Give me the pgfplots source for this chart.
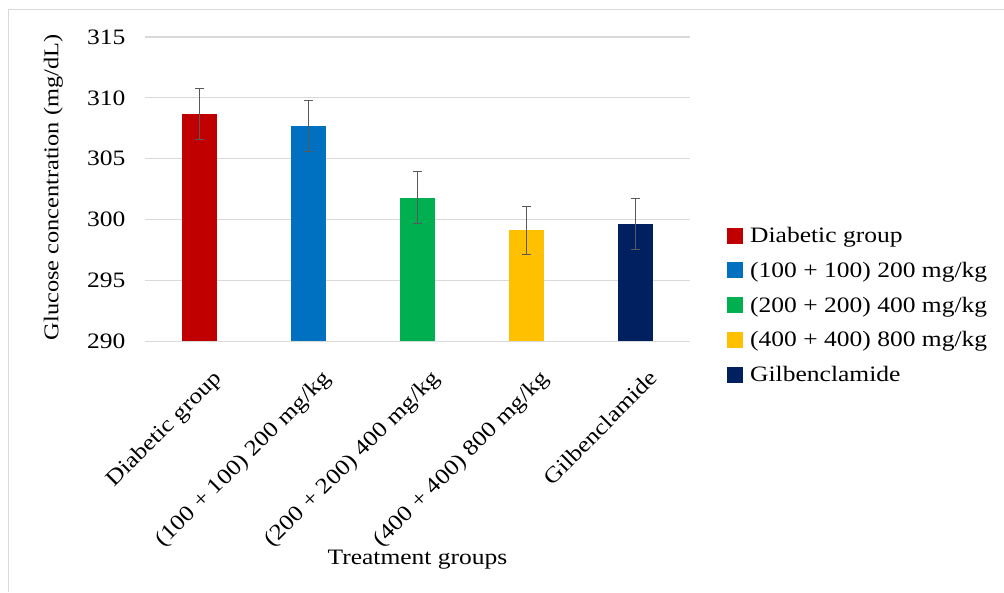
\documentclass[border=0pt]{standalone}
\usepackage{fontspec}
\setmainfont{Liberation Serif}[FakeStretch=1.16]
\usepackage{pgfplots}
\pgfplotsset{compat=1.18}
\definecolor{cRed}{HTML}{C00000}
\definecolor{cBlue}{HTML}{0070C0}
\definecolor{cGreen}{HTML}{00B050}
\definecolor{cYellow}{HTML}{FFC000}
\definecolor{cNavy}{HTML}{002060}
\definecolor{cGrid}{HTML}{D9D9D9}
\definecolor{cErr}{HTML}{595959}
\newcommand\fs{\fontsize{22}{26}\selectfont}
\begin{document}
\begin{tikzpicture}[x=1pt,y=1pt]
\path[use as bounding box] (0,0) rectangle (1004,592);
\draw[cGrid, line width=1pt] (8,0) -- (8,582) -- (1004,582);
\begin{axis}[
  at={(145pt,251pt)}, anchor=south west,
  scale only axis, width=545pt, height=304pt,
  ybar, bar width=35pt, bar shift=0pt,
  xmin=-0.5, xmax=4.5, ymin=290, ymax=315,
  ytick={290,295,...,315},
  xtick={0,1,2,3,4},
  xticklabels={Diabetic group,(100 + 100) 200 mg/kg,(200 + 200) 400 mg/kg,(400 + 400) 800 mg/kg,Gilbenclamide},
  xticklabel style={xshift=12pt, yshift=-25pt, rotate=45, anchor=north east, font=\fs, inner sep=2pt},
  yticklabel style={font=\fs, xshift=-16pt},
  /pgf/number format/assume math mode=true,
  major tick length=0pt,
  ymajorgrids, major grid style={cGrid, line width=1pt},
  axis line style={draw=none},
  xlabel={Treatment groups},
  ylabel={Glucose concentration (mg/dL)},
  xlabel style={font=\fs, at={(axis description cs:0.5,-0.72)}, anchor=center},
  ylabel style={font=\fontsize{21}{25}\selectfont, at={(axis description cs:-0.168,0.505)}, anchor=center, rotate=0},
  legend style={at={(axis description cs:1.0624,0.388)}, anchor=north west, draw=none, fill=none, font=\fs, row sep=14pt},
  legend cell align=left,
  legend image code/.code={\fill[#1,draw=none] (0pt,-8pt) rectangle (16pt,8pt); \path (21pt,0pt);},
  error bars/y dir=both, error bars/y explicit,
  error bars/error bar style={cErr, line width=1pt},
  error bars/error mark options={cErr, rotate=90, mark size=4.5pt, line width=1pt},
]
\addplot[fill=cRed, draw=none] coordinates {(0,308.7) +- (0,2.1)};
\addplot[fill=cBlue, draw=none] coordinates {(1,307.7) +- (0,2.1)};
\addplot[fill=cGreen, draw=none] coordinates {(2,301.8) +- (0,2.1)};
\addplot[fill=cYellow, draw=none] coordinates {(3,299.1) +- (0,2.0)};
\addplot[fill=cNavy, draw=none] coordinates {(4,299.6) +- (0,2.1)};
\legend{Diabetic group,(100 + 100) 200 mg/kg,(200 + 200) 400 mg/kg,(400 + 400) 800 mg/kg,Gilbenclamide}
\end{axis}
\end{tikzpicture}
\end{document}
